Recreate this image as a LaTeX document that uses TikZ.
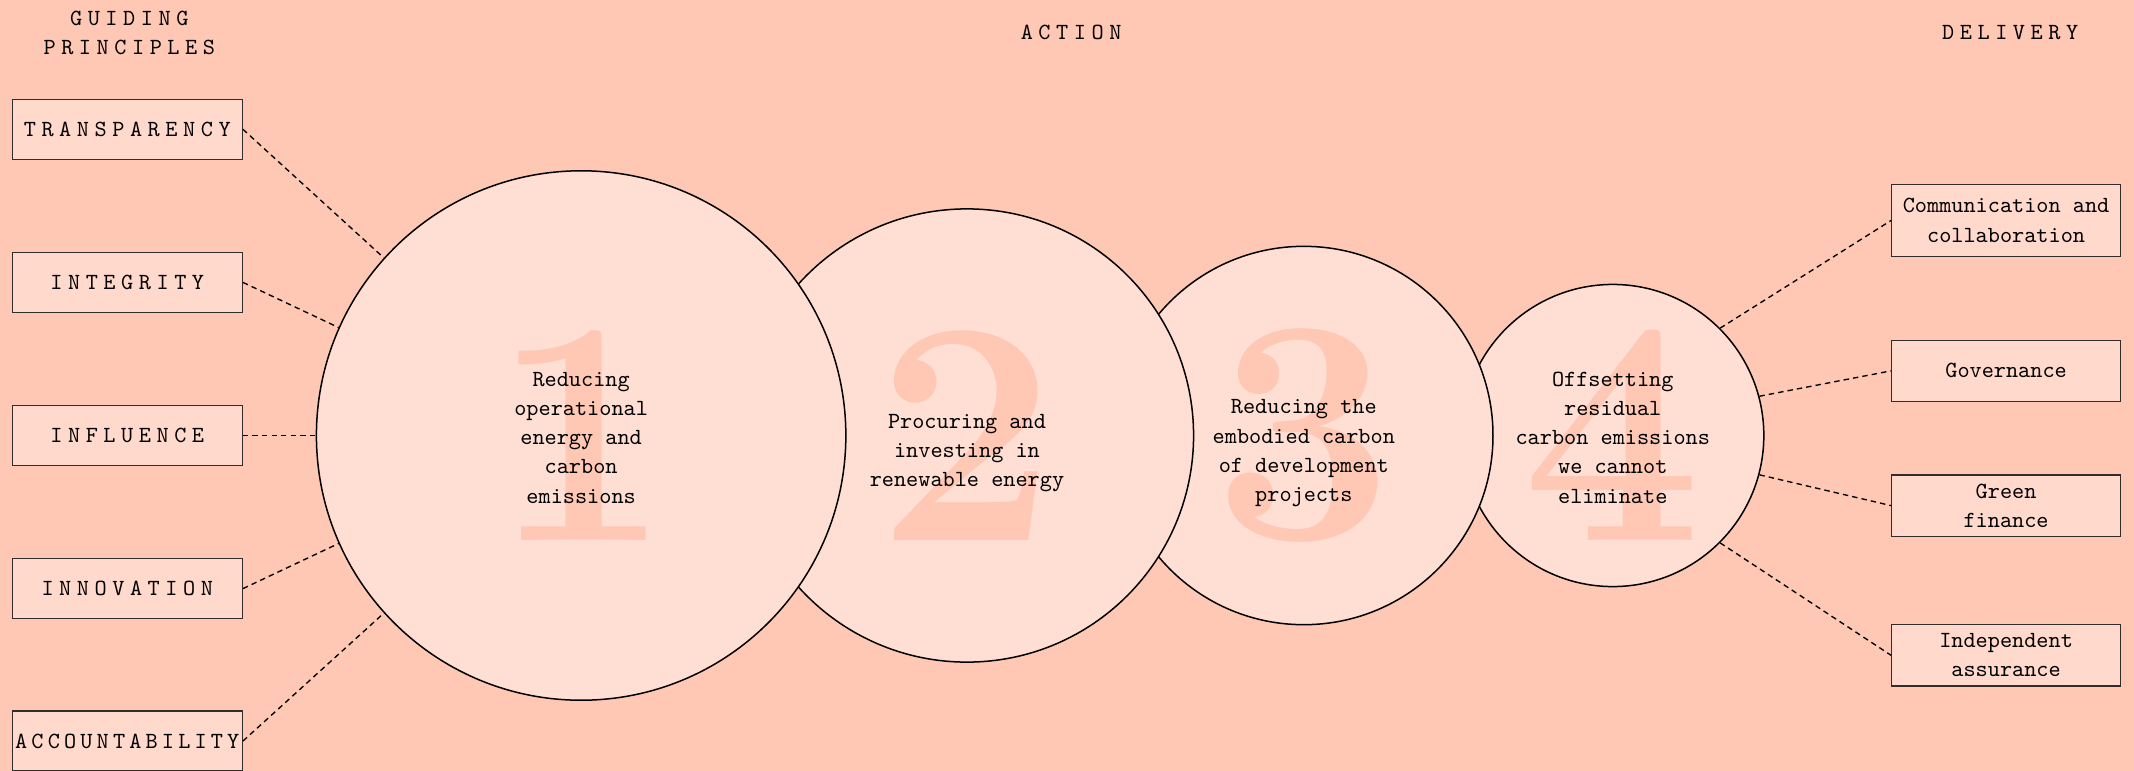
\documentclass[tikz,border=0pt]{standalone}
\usepackage{fontspec}
\newfontfamily\bodyfont{lmmono10-regular.otf}
\newfontfamily\capsfont{lmmono10-regular.otf}[LetterSpace=24]

\definecolor{bgpeach}{RGB}{254,200,180}
\definecolor{lightpeach}{RGB}{255,223,212}
\definecolor{boxpeach}{RGB}{255,217,204}
\definecolor{boxline}{RGB}{50,45,43}

\tikzset{
  stage/.style={circle,draw=black,fill=lightpeach,line width=1.1pt,inner sep=0pt},
  digit/.style={text=bgpeach,inner sep=0pt,font=\rmfamily\bfseries\fontsize{235}{235}\selectfont},
  stagetext/.style={align=center,inner sep=0pt,font=\bodyfont\fontsize{17}{21.5}\selectfont},
  principle/.style={draw=boxline,fill=boxpeach,line width=1pt,minimum width=169pt,minimum height=44pt,inner sep=0pt,font=\capsfont\fontsize{17}{21.5}\selectfont},
  outcome/.style={draw=boxline,fill=boxpeach,line width=1pt,minimum width=168pt,minimum height=45pt,inner sep=0pt,align=center,font=\bodyfont\fontsize{17}{21.5}\selectfont},
  heading/.style={align=center,inner sep=0pt,font=\capsfont\fontsize{17}{21.5}\selectfont},
  link/.style={dash pattern=on 4pt off 3pt,line width=1pt}
}

\begin{document}
\begin{tikzpicture}[x=1pt,y=-1pt]
  \fill[bgpeach] (0,0) rectangle (1568,566.5);
  \useasboundingbox (0,0) rectangle (1568,566.5);

  % headings
  \node[heading] (hguide) at (95,24) {GUIDING\\PRINCIPLES};
  \node[heading] (haction) at (787,24) {ACTION};
  \node[heading] (hdeliver) at (1477,24) {DELIVERY};

  % stages, drawn back to front
  \node[stage,minimum size=222pt] (c4) at (1185,320) {};
  \node[digit] at (c4) {4};
  \node[stagetext] (t4) at (1185,321.5) {Offsetting\\residual\\carbon emissions\\we cannot\\eliminate};

  \node[stage,minimum size=278pt] (c3) at (958,320) {};
  \node[digit] at (c3) {3};
  \node[stagetext] (t3) at (958,333) {Reducing the\\embodied carbon\\of development\\projects};

  \node[stage,minimum size=333pt] (c2) at (710.5,320) {};
  \node[digit] at (c2) {2};
  \node[stagetext] (t2) at (710.5,333) {Procuring and\\investing in\\renewable energy};

  \node[stage,minimum size=389pt] (c1) at (427,320) {};
  \node[digit] at (c1) {1};
  \node[stagetext] (t1) at (427,321.5) {Reducing\\operational\\energy and\\carbon\\emissions};

  % guiding principles
  \foreach \txt/\y/\a in {TRANSPARENCY/95/138, INTEGRITY/207.5/156, INFLUENCE/320/180, INNOVATION/432.5/204, {\addfontfeature{LetterSpace=18}ACCOUNTABILITY}/544.5/222}{
    \node[principle] (p\a) at (93.5,\y) {\txt};
    \draw[link] (p\a.east) -- (c1.\a);
  }

  % delivery
  \node[outcome,minimum height=53pt] (comm) at (1474,162) {Communication and\\collaboration};
  \node[outcome] (gov) at (1474,272.5) {Governance};
  \node[outcome] (green) at (1474,371.5) {Green\\finance};
  \node[outcome] (assure) at (1474,481.5) {Independent\\assurance};
  \draw[link] (c4.45) -- (comm.west);
  \draw[link] (c4.15) -- (gov.west);
  \draw[link] (c4.-15) -- (green.west);
  \draw[link] (c4.-45) -- (assure.west);
\end{tikzpicture}
\end{document}
